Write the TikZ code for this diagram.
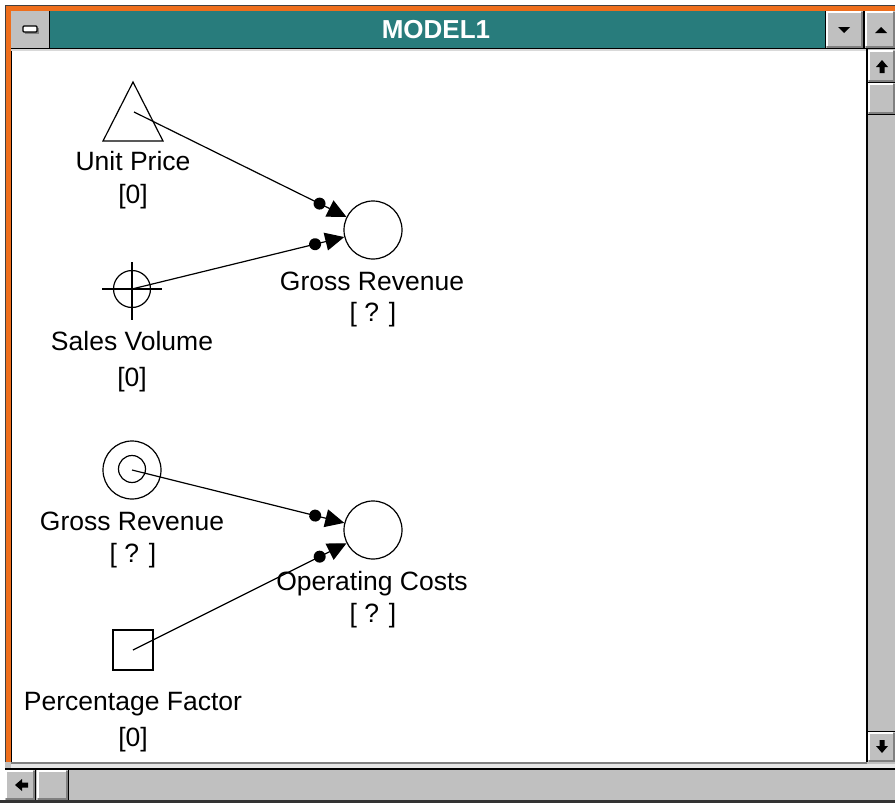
\documentclass[tikz,border=0pt]{standalone}
\usepackage{fontspec}
\setmainfont{Liberation Sans}
\usetikzlibrary{arrows.meta,decorations.markings,calc}
\definecolor{wingray}{RGB}{192,192,192}
\definecolor{windark}{RGB}{128,128,128}
\definecolor{titleteal}{RGB}{40,124,124}
\definecolor{frameorange}{RGB}{238,110,28}
\newcommand{\winbutton}[4]{%
  \fill[wingray] (#1,#2) rectangle (#3,#4);
  \draw[white, line width=2pt] (#1+1,#4-2) -- (#1+1,#2+1) -- (#3-2,#2+1);
  \draw[windark, line width=2pt] (#1+1,#4-1) -- (#3-1,#4-1) -- (#3-1,#2+1);
}
\begin{document}
\begin{tikzpicture}[x=1pt,y=-1pt,
  lbl/.style={anchor=base, font=\fontsize{26.5}{30}\selectfont, inner sep=0pt},
  shp/.style={draw, line width=1.2pt},
  varc/.style={circle, draw, line width=1.2pt, minimum size=58pt, inner sep=0pt},
  link/.style={line width=1.2pt, -{Triangle[length=19pt,width=18pt]},
    postaction={decorate},
    decoration={markings, mark=at position -30pt with {\fill (0,0) circle (6pt);}}},
  glyph/.style={fill=black}
]
\useasboundingbox (0,0) rectangle (895,803);
\fill[white] (0,0) rectangle (895,803);
% window frame
\fill[frameorange] (5,5) rectangle (895,770);
\draw[black!75, line width=1pt] (5.5,770) -- (5.5,5.5) -- (895,5.5);
\draw[black, line width=1pt] (11,770) -- (11,11) -- (895,11);
% title bar
\fill[titleteal] (11,11) rectangle (895,48);
\draw[black, line width=1.5pt] (11,48.5) -- (895,48.5);
\node[anchor=base, text=white, font=\fontsize{26}{28}\selectfont\bfseries, inner sep=0pt] (title) at (436,38.5) {MODEL1};
% system menu box
\fill[wingray] (11,11) rectangle (49,48);
\draw[black, line width=1pt] (49,11) -- (49,48);
\fill[windark] (25,28) rectangle (39,34);
\draw[black, fill=white, line width=1.2pt, rounded corners=1pt] (23,26) rectangle (37,32);
% min / max buttons
\draw[black, line width=1pt] (825,11) -- (825,48);
\winbutton{826}{11}{863}{48}
\draw[black, line width=1.5pt] (864,11) -- (864,48);
\winbutton{865}{11}{895}{48}
\fill[glyph] (838,27) -- (850,27) -- (844,33) -- cycle;
\fill[glyph] (875,33) -- (887,33) -- (881,27) -- cycle;
% client area
\fill[white] (11.5,50) rectangle (867,762);
\fill[wingray!60] (11,49) rectangle (867,50.5);
% vertical scroll bar
\fill[wingray] (867,49) rectangle (895,762);
\draw[black, line width=1.5pt] (867,49) -- (867,766);
\winbutton{868}{50}{895}{82}
\draw[black, line width=1pt] (868,82.5) -- (895,82.5);
\winbutton{868}{83}{895}{114}
\draw[black, line width=1pt] (868,114.5) -- (895,114.5);
\draw[black, line width=1pt] (868,731.5) -- (895,731.5);
\winbutton{868}{732}{895}{762}
\fill[glyph] (882,60) -- (888,67) -- (884.5,67) -- (884.5,73) -- (879.5,73) -- (879.5,67) -- (876,67) -- cycle;
\fill[glyph] (882,753) -- (888,746) -- (884.5,746) -- (884.5,740) -- (879.5,740) -- (879.5,746) -- (876,746) -- cycle;
% horizontal scroll bar
\fill[wingray] (5,762) rectangle (895,800);
\draw[windark, line width=1.5pt] (11,763) -- (867,763);
\fill[wingray!40] (11,764) rectangle (895,768);
\draw[black, line width=1.2pt] (5,769) -- (895,769);
\winbutton{5}{770}{35}{800}
\draw[black, line width=1pt] (35.5,770) -- (35.5,800);
\winbutton{37}{770}{68}{800}
\draw[black, line width=1pt] (68.5,770) -- (68.5,800);
\fill[glyph] (15,785) -- (22,779) -- (22,782.5) -- (28,782.5) -- (28,787.5) -- (22,787.5) -- (22,791) -- cycle;
\fill[black!80] (0,800) rectangle (895,803);
% ---- diagram ----
% Unit Price (triangle)
\draw[shp] (133,82) -- (163,141) -- (103,141) -- cycle;
\coordinate (up) at (134,112);
\node[lbl] (uplbl) at (133,170) {Unit Price};
\node[lbl] (upval) at (133,203) {[0]};
% Sales Volume (crosshair)
\node[circle, draw, line width=1.2pt, minimum size=37pt, inner sep=0pt] (sv) at (132,289) {};
\draw[line width=1.2pt] (102,289) -- (162,289) (132,262) -- (132,320);
\node[lbl] (svlbl) at (132,350) {Sales Volume};
\node[lbl] (svval) at (132,386) {[0]};
% Gross Revenue (top)
\node[varc] (gr1) at (373,230) {};
\node[lbl] (gr1lbl) at (372,290) {Gross Revenue};
\node[lbl] (gr1val) at (373,321) {[ ? ]};
% Gross Revenue (double circle)
\node[circle, draw, line width=1.2pt, minimum size=58pt, inner sep=0pt] (gr2) at (132,470) {};
\draw[line width=1.2pt] (132,469) circle (13.5);
\node[lbl] (gr2lbl) at (132,530) {Gross Revenue};
\node[lbl] (gr2val) at (133,562) {[ ? ]};
% Operating Costs
\node[varc] (oc) at (373,530) {};
\node[lbl] (oclbl) at (372,590) {Operating Costs};
\node[lbl] (ocval) at (373,622) {[ ? ]};
% Percentage Factor (square)
\node[draw, line width=1.2pt, minimum size=40pt, inner sep=0pt] (pf) at (133,650) {};
\node[lbl] (pflbl) at (133,710) {Percentage Factor};
\node[lbl] (pfval) at (133,746) {[0]};
% links
\draw[link] (up) -- (gr1);
\draw[link] (sv.center) -- (gr1);
\draw[link] (gr2.center) -- (oc);
\draw[link] (pf.center) -- (oc);
\end{tikzpicture}
\end{document}
